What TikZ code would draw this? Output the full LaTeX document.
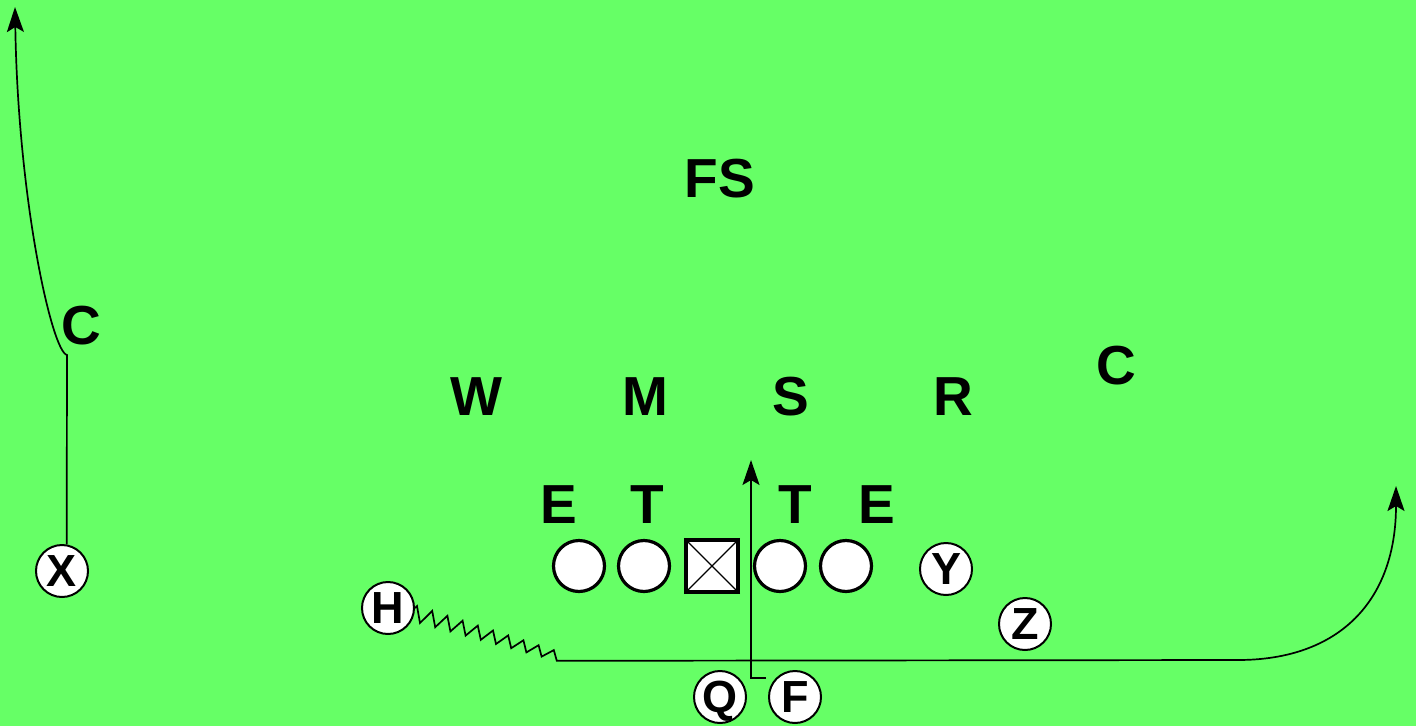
\documentclass[tikz,border=0pt]{standalone}
\usepackage{fontspec}
\setmainfont{Liberation Sans}
\usetikzlibrary{arrows.meta}
\definecolor{fieldgreen}{HTML}{66FF66}
\begin{document}
\begin{tikzpicture}[x=1pt, y=-1pt,
  defense/.style={font=\fontsize{55}{60}\selectfont\bfseries, inner sep=0pt},
  player/.style={circle, draw, fill=white, line width=2pt, minimum size=52pt, inner sep=0pt, text depth=0pt, font=\fontsize{45}{48}\selectfont\bfseries},
  lineman/.style={circle, draw, fill=white, line width=3.2pt, minimum size=51pt, inner sep=0pt},
  snapper/.style={rectangle, draw, fill=white, line width=3.2pt, minimum size=52pt, inner sep=0pt},
  route/.style={line width=1.7pt, -{Stealth[length=25pt,width=17pt,inset=5pt]}}]
% field
\useasboundingbox (0,0) rectangle (1416,726);
\fill[fieldgreen] (0,0) rectangle (1416,726);
% defense
\node[defense] (fs) at (720,179) {FS};
\node[defense] (cl) at (81,326) {C};
\node[defense] (w) at (476,397) {W};
\node[defense] (m) at (645,397) {M};
\node[defense] (s) at (791,397) {S};
\node[defense] (r) at (953,397) {R};
\node[defense] (cr) at (1116,366) {C};
\node[defense] (el) at (559,505) {E};
\node[defense] (tl) at (647,505) {T};
\node[defense] (tr) at (795,505) {T};
\node[defense] (er) at (877,505) {E};
% offensive line
\node[lineman] (lt) at (579,566) {};
\node[lineman] (lg) at (644,566) {};
\node[snapper] (ctr) at (712,566) {};
\draw[line width=1.2pt] (ctr.north west) -- (ctr.south east) (ctr.north east) -- (ctr.south west);
\node[lineman] (rg) at (780,566) {};
\node[lineman] (rt) at (846,566) {};
% backs and receivers
\node[player] (X) at (62,571) {X};
\node[player] (H) at (388,608) {H};
\node[player] (Y) at (946,569) {Y};
\node[player] (Z) at (1025,624) {Z};
\node[player] (Q) at (720,697) {Q};
\node[player] (F) at (795,697) {F};
% routes
\coordinate (xbreak) at (67,355);
\coordinate (xtip) at (15,7);
\coordinate (hturn) at (1238,660);
\coordinate (htip) at (1396,486);
\coordinate (fstart) at (766,678);
\coordinate (fturn) at (751,678);
\coordinate (ftip) at (751,460);
\draw[route] (X.80) -- (xbreak) .. controls (52,352) and (18,200) .. (xtip);
\draw[route] (H.east) \foreach \i in {0,...,9}{ -- ({417+15.2*\i},{606+4.9*\i}) -- ({420+15.2*\i},{623+4.2*\i}) }
  -- (hturn) .. controls (1340,660) and (1396,600) .. (htip);
\draw[route] (fstart) -- (fturn) -- (ftip);
\end{tikzpicture}
\end{document}
